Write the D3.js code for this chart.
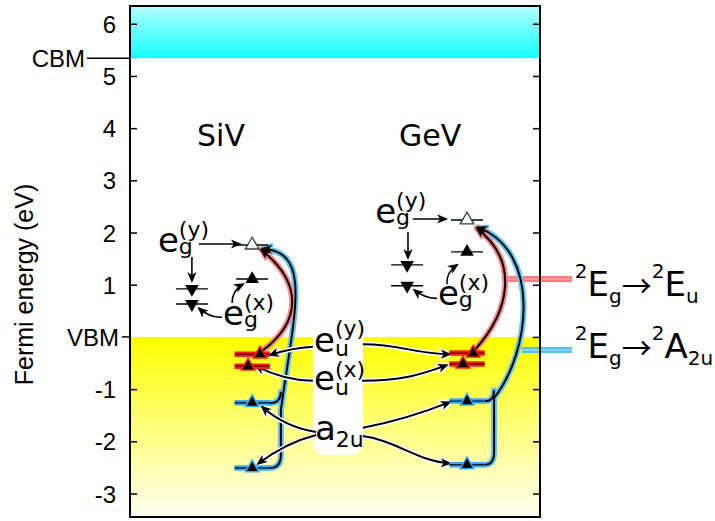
<!DOCTYPE html>
<html>
<head>
<meta charset="utf-8">
<script src="https://cdn.jsdelivr.net/npm/d3@7"></script>
<style>
  html, body { margin: 0; padding: 0; background: #fff; }
  svg { display: block; }
</style>
</head>
<body>
<svg id="chart" width="715" height="521"></svg>
<script>
// ---------- data (energies in eV) ----------
const yDomain = [-3.45, 6.34];
const yTicks = [-3, -2, -1, 1, 2, 3, 4, 5, 6];
const tickLabels = ["-3", "-2", "-1", "1", "2", "3", "4", "5", "6"];
const bandLabels = ["VBM", "CBM"];
const bandEnergies = [0, 5.34];

const defects = ["SiV", "GeV"];
const egEmpty = [1.76, 2.24];     // unoccupied e_g (hole) level
const egFilled = [1.11, 1.63];    // occupied e_g(x), spin up
const egDownY = [0.92, 1.38];     // occupied e_g(y), spin down
const egDownX = [0.63, 0.98];     // occupied e_g(x), spin down
const euY = [-0.33, -0.31];
const euX = [-0.56, -0.52];
const a2uHigh = [-1.26, -1.23];
const a2uLow = [-2.51, -2.45];

// ---------- layout ----------
const plot = { left: 130, right: 540, top: 6, bottom: 517 };
const colMain = [29.8, 82.2];   // x (0–100 units) of main level column per defect
const colSide = [15.1, 67.6];   // x of the spin-down e_g column
const euYShift = [1.9, 1.5];
const euXShift = [-1.0, -1.0];

const x = d3.scaleLinear().domain([0, 100]).range([plot.left, plot.right]);
const y = d3.scaleLinear().domain(yDomain).range([plot.bottom, plot.top]);
const P = p => [x(p[0]), y(p[1])];

const svg = d3.select("#chart");
const defs = svg.append("defs");

// ---------- gradients for the bands ----------
const gC = defs.append("linearGradient").attr("id", "cbGrad")
  .attr("x1", 0).attr("y1", 0).attr("x2", 0).attr("y2", 1);
gC.append("stop").attr("offset", "0%").attr("stop-color", "#b4ffff");
gC.append("stop").attr("offset", "100%").attr("stop-color", "#14ffff");
const gV = defs.append("linearGradient").attr("id", "vbGrad")
  .attr("x1", 0).attr("y1", 0).attr("x2", 0).attr("y2", 1);
gV.append("stop").attr("offset", "0%").attr("stop-color", "#ffff00");
gV.append("stop").attr("offset", "100%").attr("stop-color", "#fffff4");

// ---------- arrowhead markers ----------
function marker(id, fill, halo) {
  const m = defs.append("marker").attr("id", id)
    .attr("viewBox", "-16 -9 20 18").attr("refX", -2).attr("refY", 0)
    .attr("markerWidth", 20).attr("markerHeight", 18)
    .attr("markerUnits", "userSpaceOnUse").attr("orient", "auto");
  const p = m.append("path").attr("d", "M0,0 L-11,-4.6 L-8,0 L-11,4.6 Z").attr("fill", fill);
  if (halo) p.attr("stroke", halo).attr("stroke-width", 3).attr("stroke-linejoin", "round");
}
marker("ahBlack", "#000");
marker("ahWhite", "#fff", "#fff");
marker("ahPink", "#ff8585", "#ff8585");
marker("ahBlue", "#62c4f6", "#62c4f6");

// ---------- bands ----------
svg.append("rect")
  .attr("x", x(0)).attr("width", x(100) - x(0))
  .attr("y", y(yDomain[1])).attr("height", y(bandEnergies[1]) - y(yDomain[1]))
  .attr("fill", "url(#cbGrad)");
svg.append("rect")
  .attr("x", x(0)).attr("width", x(100) - x(0))
  .attr("y", y(bandEnergies[0])).attr("height", y(yDomain[0]) - y(bandEnergies[0]))
  .attr("fill", "url(#vbGrad)");

// white panel behind the orbital names
svg.append("rect")
  .attr("x", x(44.6)).attr("width", x(56.8) - x(44.6))
  .attr("y", y(0.36)).attr("height", y(-2.26) - y(0.36))
  .attr("rx", 12).attr("fill", "#fff");

// ---------- path helper ----------
function buildPath(spec) {
  const p = d3.path();
  const s = P(spec.start);
  p.moveTo(s[0], s[1]);
  spec.segs.forEach(seg => {
    const q = seg.map(P);
    if (q.length === 1) p.lineTo(q[0][0], q[0][1]);
    else if (q.length === 2) p.quadraticCurveTo(q[0][0], q[0][1], q[1][0], q[1][1]);
    else p.bezierCurveTo(q[0][0], q[0][1], q[1][0], q[1][1], q[2][0], q[2][1]);
  });
  return p.toString();
}

// ---------- transition connectors to the right-hand labels ----------
const connectors = [
  { from: [91.5, 1.11], to: [107.8, 1.11], outer: "#ff7b7b", inner: "#ffa4a4" },
  { from: [95.5, -0.25], to: [107.8, -0.25], outer: "#56bcf4", inner: "#9cdcfc" }
];
connectors.forEach(c => {
  const a = P(c.from), b = P(c.to);
  svg.append("line").attr("x1", a[0]).attr("y1", a[1]).attr("x2", b[0]).attr("y2", b[1])
    .attr("stroke", c.outer).attr("stroke-width", 6);
  svg.append("line").attr("x1", a[0]).attr("y1", a[1]).attr("x2", b[0]).attr("y2", b[1])
    .attr("stroke", c.inner).attr("stroke-width", 1.5);
});

// ---------- optical transition curves ----------
const transitions = [
  // SiV 2Eg -> 2A2u (a2u levels to the empty e_g level)
  { halo: "#62c4f6", mk: "ahBlue", arrow: true,
    start: [34.1, -2.51], segs: [[[36.8, -2.51], [36.8, -2.26]], [[36.8, -1.40]],
      [[40.2, 0.52], [44.4, 1.63], [32.4, 1.69]]] },
  { halo: "#62c4f6", arrow: false,
    start: [34.1, -1.27], segs: [[[36.8, -1.27], [36.8, -1.05]]] },
  // SiV 2Eg -> 2Eu
  { halo: "#ff8585", mk: "ahPink", arrow: true,
    start: [32.2, -0.27], segs: [[[42.2, 0.32], [41.9, 1.05], [32.0, 1.67]]] },
  // GeV 2Eg -> 2A2u
  { halo: "#62c4f6", mk: "ahBlue", arrow: true,
    start: [86.6, -2.45], segs: [[[88.8, -2.45], [88.8, -2.20]], [[88.8, -1.17]],
      [[97.6, -0.30], [100.5, 1.63], [84.9, 2.10]]] },
  { halo: "#62c4f6", arrow: false,
    start: [86.6, -1.23], segs: [[[88.8, -1.23], [88.8, -1.02]]] },
  // GeV 2Eg -> 2Eu
  { halo: "#ff8585", mk: "ahPink", arrow: true,
    start: [84.1, -0.25], segs: [[[92.8, 0.51], [94.9, 1.46], [84.6, 2.08]]] }
];
transitions.forEach(t => {
  const d = buildPath(t);
  const h = svg.append("path").attr("d", d).attr("fill", "none")
    .attr("stroke", t.halo).attr("stroke-width", 6).attr("stroke-linecap", "round");
  if (t.arrow) h.attr("marker-end", `url(#${t.mk})`);
});
transitions.forEach(t => {
  const d = buildPath(t);
  const c = svg.append("path").attr("d", d).attr("fill", "none")
    .attr("stroke", "#000").attr("stroke-width", 2);
  if (t.arrow) c.attr("marker-end", "url(#ahBlack)");
});

// ---------- arrows from the orbital names (white outlined) ----------
const orbitalArrows = [
  { start: [44.6, -0.19], segs: [[[39.5, -0.21], [34.1, -0.35]]] },
  { start: [44.6, -0.84], segs: [[[37.8, -0.84], [30.7, -0.56]]] },
  { start: [45.4, -1.82], segs: [[[38.0, -1.74], [32.2, -1.34]]] },
  { start: [45.4, -1.88], segs: [[[38.0, -2.03], [31.2, -2.43]]] },
  { start: [56.8, -0.14], segs: [[[66.1, -0.14], [69.5, -0.33], [78.0, -0.33]]] },
  { start: [56.6, -0.84], segs: [[[65.9, -0.84], [70.7, -0.73], [77.3, -0.54]]] },
  { start: [56.8, -1.74], segs: [[[67.1, -1.59], [78.0, -1.25]]] },
  { start: [56.8, -1.90], segs: [[[64.6, -1.98], [70.7, -2.40], [78.0, -2.42]]] }
];
orbitalArrows.forEach(a => {
  svg.append("path").attr("d", buildPath(a)).attr("fill", "none")
    .attr("stroke", "#fff").attr("stroke-width", 5).attr("marker-end", "url(#ahWhite)");
});
orbitalArrows.forEach(a => {
  svg.append("path").attr("d", buildPath(a)).attr("fill", "none")
    .attr("stroke", "#000").attr("stroke-width", 2).attr("marker-end", "url(#ahBlack)");
});

// ---------- arrows from the e_g names ----------
const egArrows = [
  { start: [16.8, 1.78], segs: [[[26.8, 1.78]]] },
  { start: [15.1, 1.53], segs: [[[15.1, 1.07]]] },
  { start: [22.4, 0.38], segs: [[[19.5, 0.36], [16.8, 0.55]]] },
  { start: [24.9, 0.65], segs: [[[24.9, 0.90], [27.6, 1.01]]] },
  { start: [69.0, 2.26], segs: [[[77.1, 2.26]]] },
  { start: [67.8, 2.01], segs: [[[67.8, 1.51]]] },
  { start: [74.9, 0.74], segs: [[[72.0, 0.73], [69.3, 0.90]]] },
  { start: [77.3, 1.01], segs: [[[77.1, 1.24], [79.8, 1.38]]] }
];
egArrows.forEach(a => {
  svg.append("path").attr("d", buildPath(a)).attr("fill", "none")
    .attr("stroke", "#000").attr("stroke-width", 1.6).attr("marker-end", "url(#ahBlack)");
});

// ---------- defect levels ----------
const levelRows = [];
defects.forEach((d, i) => {
  levelRows.push({ col: colMain[i], E: egEmpty[i], kind: "thin", tri: "open", dx: 0 });
  levelRows.push({ col: colMain[i], E: egFilled[i], kind: "thin", tri: "up", dx: 0 });
  levelRows.push({ col: colSide[i], E: egDownY[i], kind: "thin", tri: "down", dx: 0 });
  levelRows.push({ col: colSide[i], E: egDownX[i], kind: "thin", tri: "down", dx: 0 });
  levelRows.push({ col: colMain[i], E: euY[i], kind: "red", tri: "up", dx: euYShift[i] });
  levelRows.push({ col: colMain[i], E: euX[i], kind: "red", tri: "up", dx: euXShift[i] });
  levelRows.push({ col: colMain[i], E: a2uHigh[i], kind: "blue", tri: "up", dx: 0 });
  levelRows.push({ col: colMain[i], E: a2uLow[i], kind: "blue", tri: "up", dx: 0 });
});
const levelColor = { red: "#ff1a1a", blue: "#3aaaf0" };
const tri = d3.symbol(d3.symbolTriangle, 80);

levelRows.forEach(r => {
  const half = r.kind === "thin" ? 3.9 : 4.3;
  const yy = y(r.E);
  if (r.kind !== "thin") {
    svg.append("line").attr("x1", x(r.col - half)).attr("x2", x(r.col + half))
      .attr("y1", yy).attr("y2", yy).attr("stroke", levelColor[r.kind]).attr("stroke-width", 5.5);
    svg.append("line").attr("x1", x(r.col - half)).attr("x2", x(r.col + half))
      .attr("y1", yy).attr("y2", yy).attr("stroke", r.kind === "red" ? "#5a0000" : "#002040")
      .attr("stroke-width", 1.4);
  } else {
    svg.append("line").attr("x1", x(r.col - half)).attr("x2", x(r.col + half))
      .attr("y1", yy).attr("y2", yy).attr("stroke", "#000").attr("stroke-width", 1.4);
  }
});
levelRows.forEach(r => {
  const t = svg.append("path").attr("d", tri())
    .attr("transform", `translate(${x(r.col + r.dx)},${y(r.E)})` + (r.tri === "down" ? " rotate(180)" : ""));
  if (r.tri === "open") t.attr("fill", "#fff").attr("stroke", "#2f4444").attr("stroke-width", 1.3);
  else if (r.kind === "thin") t.attr("fill", "#000");
  else t.attr("fill", "#000").attr("stroke", levelColor[r.kind]).attr("stroke-width", 1.5);
});

// ---------- text labels ----------
const sansFont = "'DejaVu Sans', Verdana, sans-serif";
const labelG = svg.append("g").attr("font-family", sansFont).attr("fill", "#000");

function orbitalLabel(pos, main, sub, sup, subDy, supDy) {
  const [px, py] = P(pos);
  const t = labelG.append("text").attr("x", px).attr("y", py).attr("font-size", 34).text(main);
  const w = t.node().getComputedTextLength();
  if (sub) labelG.append("text").attr("x", px + w).attr("y", py + subDy).attr("font-size", 22).text(sub);
  if (sup) labelG.append("text").attr("x", px + w).attr("y", py + supDy).attr("font-size", 22).text(sup);
}
orbitalLabel([6.8, 1.63], "e", "g", "(y)", 2, -15);
orbitalLabel([22.7, 0.23], "e", "g", "(x)", 2, -15);
orbitalLabel([59.8, 2.18], "e", "g", "(y)", 2, -15);
orbitalLabel([75.1, 0.61], "e", "g", "(x)", 2, -15);
orbitalLabel([44.9, -0.29], "e", "u", "(y)", 4, -16);
orbitalLabel([44.9, -1.02], "e", "u", "(x)", 5, -13);
orbitalLabel([45.1, -1.98], "a", "2u", null, 7, 0);

const defectPos = [[22.2, 3.66], [73.2, 3.66]];
defects.forEach((d, i) => {
  const [px, py] = P(defectPos[i]);
  labelG.append("text").attr("x", px).attr("y", py).attr("text-anchor", "middle")
    .attr("font-size", 30).text(d);
});

// term symbols for the transitions
const termPos = [[108.5, 0.78], [108.5, -0.40]];
const termParts = [
  [["2", "sup"], ["E", "m"], ["g", "sub"], ["\u2192", "arr"], ["2", "sup"], ["E", "m"], ["u", "sub"]],
  [["2", "sup"], ["E", "m"], ["g", "sub"], ["\u2192", "arr"], ["2", "sup"], ["A", "m"], ["2u", "sub"]]
];
termParts.forEach((parts, i) => {
  const [px, py] = P(termPos[i]);
  const t = labelG.append("text").attr("x", px).attr("y", py);
  let cur = 0;
  parts.forEach(([s, k]) => {
    const target = k === "sup" ? -18 : k === "sub" ? 7 : k === "arr" ? 1 : 0;
    const ts = t.append("tspan").attr("dy", target - cur)
      .attr("font-size", k === "m" ? 34 : k === "arr" ? 30 : 20).text(s);
    if (k === "arr") ts.attr("font-family", "'Noto Sans CJK JP', 'Noto Sans CJK SC', sans-serif");
    cur = target;
  });
});

// ---------- axes ----------
const axisFont = "'Liberation Sans', Arial, sans-serif";
const yAxisL = d3.axisLeft(y).tickValues(yTicks)
  .tickFormat((d, i) => tickLabels[i]).tickSizeInner(-7).tickSizeOuter(0).tickPadding(14);
const gL = svg.append("g").attr("transform", `translate(${plot.left},0)`).call(yAxisL);
gL.attr("font-family", axisFont).attr("font-size", 24);
gL.select(".domain").remove();
gL.selectAll(".tick line").attr("stroke", "#000").attr("stroke-width", 1.5);
gL.selectAll(".tick text").attr("fill", "#000").attr("dy", "0.36em");

const yAxisR = d3.axisRight(y).tickValues(d3.range(-3, 7)).tickFormat("")
  .tickSizeInner(-7).tickSizeOuter(0);
const gR = svg.append("g").attr("transform", `translate(${plot.right},0)`).call(yAxisR);
gR.select(".domain").remove();
gR.selectAll(".tick line").attr("stroke", "#000").attr("stroke-width", 1.5);

// band edge markers
const bandLabelX = [119, 85];
const bandLineX = [122, 87];
bandLabels.forEach((b, i) => {
  const yy = y(bandEnergies[i]);
  svg.append("line").attr("x1", bandLineX[i]).attr("x2", plot.left).attr("y1", yy).attr("y2", yy)
    .attr("stroke", "#000").attr("stroke-width", 1.5);
  svg.append("text").attr("x", bandLabelX[i]).attr("y", yy).attr("dy", "0.36em")
    .attr("text-anchor", "end").attr("font-family", axisFont).attr("font-size", 24).text(b);
});

// frame
svg.append("rect").attr("x", plot.left).attr("y", plot.top)
  .attr("width", plot.right - plot.left).attr("height", plot.bottom - plot.top)
  .attr("fill", "none").attr("stroke", "#000").attr("stroke-width", 2);

// axis title
svg.append("text").attr("transform", `translate(33,${(plot.top + plot.bottom) / 2 + 23}) rotate(-90)`)
  .attr("text-anchor", "middle").attr("font-family", axisFont).attr("font-size", 25)
  .text("Fermi energy (eV)");
</script>
</body>
</html>
